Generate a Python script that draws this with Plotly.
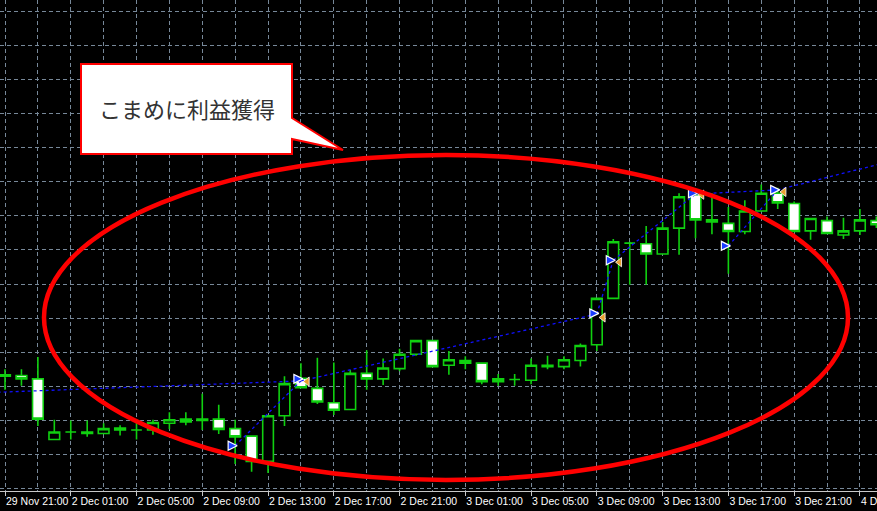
import plotly.graph_objects as go

# ---------------------------------------------------------------- data
# 1時間足 (29 Nov 21:00 〜 4 Dec 02:00)
tick_pos = [0, 4, 8, 12, 16, 20, 24, 28, 32, 36, 40, 44, 48, 52]
tick_labels = ['29 Nov 21:00', '2 Dec 01:00', '2 Dec 05:00', '2 Dec 09:00',
               '2 Dec 13:00', '2 Dec 17:00', '2 Dec 21:00', '3 Dec 01:00',
               '3 Dec 05:00', '3 Dec 09:00', '3 Dec 13:00', '3 Dec 17:00',
               '3 Dec 21:00', '4 Dec 01:00']

bar_open = [1.09965, 1.09966, 1.09961, 1.09872, 1.09883, 1.09881, 1.09881, 1.09889, 1.09886, 1.09886,
            1.09896, 1.09902, 1.09900, 1.09902, 1.09888, 1.09877, 1.09840, 1.09907, 1.09962, 1.09947,
            1.09926, 1.09916, 1.09969, 1.09961, 1.09976, 1.09997, 1.10017, 1.09981, 1.09988, 1.09984,
            1.09957, 1.09960, 1.09959, 1.09979, 1.09979, 1.09988, 1.10011, 1.10079, 1.10160, 1.10159,
            1.10144, 1.10182, 1.10231, 1.10194, 1.10189, 1.10177, 1.10207, 1.10233, 1.10218, 1.10178,
            1.10193, 1.10172, 1.10178, 1.10193]
bar_high = [1.09975, 1.09975, 1.09993, 1.09901, 1.09900, 1.09900, 1.09896, 1.09893, 1.09901, 1.09901,
            1.09912, 1.09912, 1.09939, 1.09923, 1.09901, 1.09877, 1.09908, 1.09965, 1.09984, 1.09992,
            1.09985, 1.09974, 1.10003, 1.09991, 1.10005, 1.10018, 1.10018, 1.10002, 1.09994, 1.09984,
            1.09968, 1.09968, 1.09991, 1.09995, 1.09994, 1.10013, 1.10080, 1.10166, 1.10162, 1.10185,
            1.10191, 1.10233, 1.10235, 1.10233, 1.10213, 1.10223, 1.10246, 1.10241, 1.10221, 1.10197,
            1.10199, 1.10197, 1.10210, 1.10199]
bar_low = [1.09945, 1.09951, 1.09892, 1.09872, 1.09872, 1.09876, 1.09880, 1.09878, 1.09872, 1.09879,
           1.09887, 1.09893, 1.09886, 1.09880, 1.09836, 1.09825, 1.09823, 1.09892, 1.09947, 1.09924,
           1.09908, 1.09915, 1.09945, 1.09952, 1.09972, 1.09995, 1.09978, 1.09967, 1.09975, 1.09953,
           1.09951, 1.09951, 1.09953, 1.09975, 1.09975, 1.09979, 1.10002, 1.10078, 1.10099, 1.10099,
           1.10143, 1.10143, 1.10167, 1.10173, 1.10115, 1.10173, 1.10206, 1.10210, 1.10176, 1.10165,
           1.10173, 1.10166, 1.10172, 1.10182]
bar_close = [1.09967, 1.09961, 1.09902, 1.09883, 1.09883, 1.09883, 1.09888, 1.09886, 1.09886, 1.09897,
             1.09901, 1.09898, 1.09902, 1.09887, 1.09876, 1.09840, 1.09907, 1.09954, 1.09948, 1.09927,
             1.09915, 1.09969, 1.09961, 1.09977, 1.09997, 1.10017, 1.09979, 1.09989, 1.09984, 1.09957,
             1.09961, 1.09960, 1.09981, 1.09981, 1.09989, 1.10010, 1.10079, 1.10162, 1.10160, 1.10144,
             1.10182, 1.10228, 1.10194, 1.10191, 1.10177, 1.10207, 1.10233, 1.10219, 1.10177, 1.10196,
             1.10174, 1.10178, 1.10194, 1.10187]
bar_x = list(range(len(bar_open)))

# 取引履歴 (エントリー → 決済)
trade_in_x = [-3, 14, 18, 36, 37, 42, 44, 47]
trade_in_y = [1.09939, 1.09863, 1.09958, 1.10056, 1.10135, 1.10232, 1.10156, 1.10238]
trade_out_x = [18, 18, 36, 37, 42, 47, 47, 56]
trade_out_y = [1.09958, 1.09958, 1.10056, 1.10135, 1.10232, 1.10238, 1.10238, 1.10293]

buy_x = [14, 18, 36, 37, 42, 44, 47]
buy_y = [1.09863, 1.09961, 1.10057, 1.10135, 1.10233, 1.10156, 1.10238]
close_x = [18, 36, 37, 42, 47]
close_y = [1.09957, 1.10051, 1.10132, 1.10231, 1.10235]

# ---------------------------------------------------------------- figure
W, H, PLOT_H = 877, 511, 491
GREEN = '#10d010'
GRID = '#778899'


def px(x):  # pixel -> paper (horizontal)
    return x / W


def py(y):  # pixel -> paper (vertical, plot area)
    return 1 - y / PLOT_H


fig = go.Figure()

# trade lines (dotted blue)
line_x, line_y = [], []
for x0, y0, x1, y1 in zip(trade_in_x, trade_in_y, trade_out_x, trade_out_y):
    line_x += [x0, x1, None]
    line_y += [y0, y1, None]
fig.add_trace(go.Scatter(
    x=line_x, y=line_y, mode='lines',
    line={'color': '#1010ff', 'width': 1.3, 'dash': '3px,3px'},
    hoverinfo='skip'
))

fig.add_trace(go.Candlestick(
    x=bar_x, open=bar_open, high=bar_high, low=bar_low, close=bar_close,
    increasing={'line': {'color': GREEN, 'width': 1.6}, 'fillcolor': 'black'},
    decreasing={'line': {'color': GREEN, 'width': 1.6}, 'fillcolor': 'white'},
    whiskerwidth=0,
))

# 決済マーク (orange) と 買いマーク (blue)
fig.add_trace(go.Scatter(
    x=[v + 0.38 for v in close_x], y=close_y, mode='markers',
    marker={'symbol': 'triangle-left', 'size': 8, 'color': '#e8a030',
            'line': {'color': 'white', 'width': 0.8}},
    hoverinfo='skip'
))
fig.add_trace(go.Scatter(
    x=[v + 0.12 for v in buy_x], y=buy_y, mode='markers',
    marker={'symbol': 'arrow-right', 'size': 9, 'color': '#1a3cff',
            'line': {'color': 'white', 'width': 1.2}},
    hoverinfo='skip'
))

# 赤い楕円
fig.add_shape(type='circle', xref='paper', yref='paper',
              x0=px(44), x1=px(848), y0=py(480), y1=py(155),
              line={'color': '#ff0000', 'width': 4.5}, layer='above')

# 吹き出し
path = (f'M {px(81)},{py(64)} L {px(292)},{py(64)} L {px(292)},{py(118)} '
        f'L {px(343)},{py(150)} L {px(292)},{py(139)} L {px(292)},{py(154)} '
        f'L {px(81)},{py(154)} Z')
fig.add_shape(type='path', path=path, xref='paper', yref='paper',
              fillcolor='white', line={'color': '#ff0000', 'width': 2}, layer='above')
fig.add_annotation(text='こまめに利益獲得', xref='paper', yref='paper',
                   x=px(187), y=py(108), xanchor='center', yanchor='middle',
                   showarrow=False,
                   font={'family': 'Noto Sans CJK JP', 'size': 22, 'color': '#333333'})

fig.update_layout(
    width=W, height=H,
    margin={'l': 0, 'r': 0, 't': 0, 'b': H - PLOT_H, 'autoexpand': False},
    paper_bgcolor='black', plot_bgcolor='black',
    showlegend=False,
    boxgap=0.35, boxgroupgap=0,
    xaxis={
        'range': [-0.304, 53.04],
        'rangeslider': {'visible': False},
        'tickmode': 'array', 'tickvals': tick_pos, 'ticktext': tick_labels,
        'tickangle': 0,
        'ticks': 'outside', 'ticklen': 4, 'tickcolor': '#c8c8c8',
        'ticklabelposition': 'outside right',
        'ticklabeloverflow': 'allow',
        'tickfont': {'family': 'Liberation Sans', 'size': 10.5, 'color': 'white'},
        'showline': True, 'linecolor': '#c8c8c8', 'linewidth': 1,
        'showgrid': True, 'gridcolor': GRID, 'griddash': '4px,3px', 'gridwidth': 1,
        'minor': {'tickmode': 'linear', 'tick0': 0, 'dtick': 2, 'showgrid': True,
                  'gridcolor': GRID, 'griddash': '4px,3px', 'gridwidth': 1},
        'zeroline': False,
    },
    yaxis={
        'range': [1.097966, 1.105164],
        'tick0': 1.0980, 'dtick': 0.0005,
        'showticklabels': False,
        'showgrid': True, 'gridcolor': GRID, 'griddash': '4px,3px', 'gridwidth': 1,
        'zeroline': False,
    },
)

# ページ既定の余白 (8px) を消してチャートを左上に揃える
fig.write_html("out.html", config={'displayModeBar': False},
               post_script="document.body.style.margin='0';document.body.style.background='black';")
